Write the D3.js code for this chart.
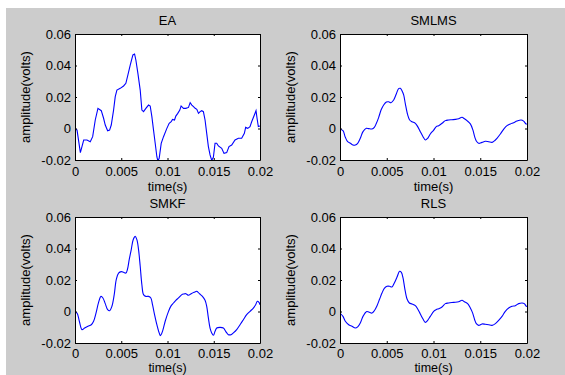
<!DOCTYPE html>
<html>
<head>
<meta charset="utf-8">
<script src="https://cdn.jsdelivr.net/npm/d3@7"></script>
<style>
  body { margin: 0; background: #fff; }
  text { font-family: "Liberation Sans", Arial, sans-serif; fill: #000; font-weight: normal; }
</style>
</head>
<body>
<svg id="fig" width="565" height="375"></svg>
<script>
// tick values / labels shared by the four panels
const xTicks = [0, 0.005, 0.01, 0.015, 0.02]
const xTickLabels = ["0", "0.005", "0.01", "0.015", "0.02"]
const yTicks = [-0.02, 0, 0.02, 0.04, 0.06]
const yTickLabels = ["-0.02", "0", "0.02", "0.04", "0.06"]
const panelTitles = ["EA", "SMLMS", "SMKF", "RLS"]

// EA
const eaTime = [0,0.00007,0.00022,0.00058,0.00094,0.00129,0.00165,0.00191,0.00219,0.00248,0.00284,0.00309,0.00327,0.00353,0.00374,0.00392,0.00417,0.00435,0.00453,0.00489,0.00525,0.0055,0.00572,0.00597,0.00626,0.00644,0.00658,0.0068,0.00705,0.00723,0.00741,0.00766,0.00795,0.00813,0.00831,0.00849,0.00867,0.00885,0.00896,0.0091,0.00932,0.00957,0.00993,0.01018,0.0104,0.01054,0.01076,0.0109,0.01111,0.01133,0.01147,0.01173,0.01198,0.01227,0.01245,0.01263,0.01281,0.01299,0.01317,0.01335,0.01353,0.0137,0.01388,0.01406,0.01424,0.01442,0.0146,0.01478,0.01496,0.01514,0.01532,0.0155,0.01586,0.01611,0.0164,0.01665,0.01694,0.0173,0.01766,0.01802,0.01831,0.01845,0.01867,0.01892,0.0191,0.01939,0.01957,0.01968,0.01982,0.02]
const eaAmp = [-0.0031,-0.0003,-0.001,-0.0153,-0.0073,-0.0073,-0.0084,-0.0052,0.0054,0.0128,0.0113,0.0065,0.0022,-0.0014,-0.001,0.0022,0.0117,0.0202,0.0244,0.0255,0.027,0.0287,0.034,0.0403,0.0467,0.0473,0.0435,0.035,0.0244,0.0117,0.0107,0.0128,0.0149,0.0143,0.0075,-0.001,-0.0094,-0.0179,-0.0206,-0.0189,-0.0094,-0.0052,0.0001,0.0033,0.0043,0.0058,0.0054,0.0079,0.0096,0.0117,0.0143,0.0128,0.0128,0.0134,0.0164,0.0149,0.0139,0.0128,0.0122,0.0096,0.0107,0.0113,0.0107,0.0054,-0.0031,-0.0115,-0.0168,-0.0202,-0.0183,-0.0094,-0.0094,-0.0111,-0.0126,-0.0158,-0.0153,-0.0115,-0.0105,-0.0073,-0.0062,-0.0062,-0.0031,0.0007,0.0001,0.0012,0.0043,0.0086,0.0113,0.0065,0.0012,0.0016]

// SMLMS
const smlmsTime = [0,0.00032,0.00057,0.00082,0.00111,0.00139,0.00164,0.00189,0.00217,0.00246,0.00282,0.00307,0.00342,0.00367,0.00389,0.00414,0.00439,0.00467,0.00496,0.0052,0.00545,0.00574,0.00602,0.00627,0.00645,0.00663,0.00681,0.00699,0.00724,0.00745,0.0077,0.00806,0.00831,0.00859,0.00888,0.00913,0.00938,0.00966,0.01002,0.0103,0.01055,0.01091,0.01127,0.01162,0.01198,0.01234,0.01269,0.01305,0.0133,0.01358,0.01394,0.01422,0.0144,0.01458,0.01483,0.01519,0.01554,0.0159,0.01626,0.01651,0.01679,0.01715,0.0175,0.01786,0.01822,0.01857,0.01893,0.01936,0.01964,0.01989,0.02]
const smlmsAmp = [-0.0005,-0.0014,-0.0056,-0.0084,-0.0094,-0.0105,-0.0105,-0.0094,-0.0062,-0.002,0.0001,-0.0001,-0.0003,0.0007,0.0033,0.0071,0.0117,0.0149,0.0168,0.017,0.0164,0.0181,0.0219,0.0253,0.0255,0.024,0.0213,0.0156,0.0086,0.0054,0.0043,0.0033,0.0012,-0.002,-0.0052,-0.0073,-0.0062,-0.0035,-0.001,0.0012,0.0018,0.0033,0.005,0.0054,0.0056,0.0058,0.0062,0.0071,0.0062,0.005,0.0029,-0.001,-0.0052,-0.0079,-0.0094,-0.0088,-0.0081,-0.0084,-0.0088,-0.0079,-0.0062,-0.0035,-0.0005,0.0018,0.0029,0.0037,0.0047,0.0054,0.0047,0.0029,0.0029]

// SMKF
const smkfTime = [0,0.00022,0.00047,0.00076,0.00104,0.0014,0.00176,0.00201,0.00227,0.00255,0.00281,0.00302,0.00327,0.00353,0.00374,0.00399,0.00424,0.00446,0.00471,0.005,0.00525,0.0055,0.00568,0.00586,0.00608,0.00629,0.00651,0.00669,0.00687,0.00705,0.00723,0.00741,0.00766,0.00795,0.0082,0.00838,0.0086,0.00885,0.0091,0.00924,0.00946,0.00975,0.01011,0.0104,0.01065,0.0109,0.01119,0.01155,0.01173,0.01198,0.01227,0.01256,0.01288,0.01317,0.01345,0.01378,0.01406,0.01424,0.01442,0.0146,0.01478,0.01496,0.01514,0.01532,0.01568,0.01604,0.01629,0.01658,0.01687,0.01712,0.01748,0.01784,0.0182,0.01856,0.01892,0.01928,0.01953,0.01971,0.01989,0.02]
const smkfAmp = [-0.0005,-0.001,-0.0062,-0.0115,-0.0105,-0.0094,-0.0084,-0.0062,-0.001,0.0058,0.0096,0.0086,0.005,0.0012,0.0005,0.0033,0.0107,0.0202,0.0244,0.0253,0.0249,0.0244,0.027,0.0329,0.0393,0.0456,0.0477,0.0456,0.0393,0.0287,0.017,0.0107,0.0096,0.0096,0.0086,0.0043,-0.002,-0.0084,-0.0136,-0.0153,-0.0126,-0.0062,0.0001,0.0037,0.0054,0.0071,0.0086,0.0107,0.0111,0.0113,0.0103,0.0113,0.0122,0.0128,0.0113,0.0096,0.0071,0.0033,-0.0041,-0.0105,-0.0136,-0.0151,-0.0126,-0.0105,-0.0101,-0.0105,-0.0126,-0.0147,-0.0147,-0.0136,-0.0115,-0.0084,-0.0052,-0.002,0.0001,0.0022,0.0043,0.0065,0.0058,0.0043]

// RLS
const rlsTime = [0,0.00032,0.00057,0.00093,0.00128,0.00164,0.00189,0.00217,0.00246,0.00282,0.00307,0.00342,0.00367,0.00396,0.00424,0.00449,0.00474,0.00503,0.00531,0.00556,0.00581,0.0061,0.00638,0.00656,0.00674,0.00692,0.00717,0.00742,0.0077,0.00806,0.00831,0.00859,0.00888,0.00913,0.00938,0.00966,0.01002,0.0103,0.01055,0.01091,0.01127,0.01162,0.01216,0.01269,0.01305,0.0133,0.01365,0.01394,0.01419,0.0144,0.01458,0.01483,0.01519,0.01554,0.0159,0.01626,0.01662,0.01697,0.01733,0.01768,0.01804,0.0184,0.01875,0.01911,0.01947,0.01971,0.01993,0.02]
const rlsAmp = [-0.001,-0.0031,-0.0062,-0.0084,-0.0094,-0.0105,-0.0098,-0.0073,-0.0031,-0.0001,-0.0003,-0.001,0.0005,0.0037,0.0079,0.0117,0.0147,0.016,0.016,0.0156,0.0181,0.0219,0.0255,0.0249,0.0213,0.0149,0.0079,0.0054,0.0048,0.0037,0.0016,-0.0016,-0.0048,-0.0069,-0.0056,-0.0031,0.0001,0.0012,0.0018,0.0029,0.005,0.0054,0.0058,0.0062,0.0071,0.0062,0.005,0.0022,-0.001,-0.0052,-0.0077,-0.0088,-0.0079,-0.0081,-0.0084,-0.0088,-0.0077,-0.0056,-0.0031,0.0001,0.0022,0.0033,0.0037,0.005,0.0054,0.005,0.0033,0.0033]

const series = [
  {time: eaTime, amp: eaAmp, curve: d3.curveLinear},
  {time: smlmsTime, amp: smlmsAmp, curve: d3.curveCatmullRom},
  {time: smkfTime, amp: smkfAmp, curve: d3.curveCatmullRom},
  {time: rlsTime, amp: rlsAmp, curve: d3.curveCatmullRom}
]

// axes boxes (pixel positions inside the figure)
// pad = x tick label padding, xlab = baseline offset of "time(s)", xlabSize = its font size
const cols = [{left: 75, right: 260}, {left: 340, right: 527}]
const rows = [
  {top: 34, bottom: 160, pad: 7, xlab: 31, xlabSize: 13},
  {top: 217, bottom: 343, pad: 5.5, xlab: 29, xlabSize: 12.5}
]

const svg = d3.select("#fig")

// white page strip + grey matlab figure
svg.append("rect").attr("width", 565).attr("height", 375).attr("fill", "#fff")
svg.append("rect").attr("x", 6).attr("y", 8).attr("width", 559).attr("height", 367).attr("fill", "#cccccc")

series.forEach(function(s, i) {
  const c = cols[i % 2], r = rows[Math.floor(i / 2)]
  const w = c.right - c.left, h = r.bottom - r.top

  const x = d3.scaleLinear().domain([0, 0.02]).range([0, w])
  const y = d3.scaleLinear().domain([-0.02, 0.06]).range([h, 0])

  const g = svg.append("g").attr("transform", "translate(" + c.left + "," + r.top + ")")

  g.append("rect").attr("width", w).attr("height", h).attr("fill", "#fff")

  g.append("clipPath").attr("id", "clip" + i)
    .append("rect").attr("width", w).attr("height", h)

  const line = d3.line()
    .x(function(d, k) { return x(s.time[k]) })
    .y(function(d) { return y(d) })
    .curve(s.curve)

  g.append("path")
    .datum(s.amp)
    .attr("clip-path", "url(#clip" + i + ")")
    .attr("fill", "none")
    .attr("stroke", "#0000ff")
    .attr("stroke-width", 1.1)
    .attr("d", line)

  // ticks point inward on all four sides, labels only left/bottom
  const xAxis = d3.axisBottom(x).tickValues(xTicks)
    .tickFormat(function(d, k) { return xTickLabels[k] })
    .tickSizeInner(-2).tickSizeOuter(0).tickPadding(r.pad)
  const yAxis = d3.axisLeft(y).tickValues(yTicks)
    .tickFormat(function(d, k) { return yTickLabels[k] })
    .tickSizeInner(-2).tickSizeOuter(0).tickPadding(4)

  g.append("g").attr("transform", "translate(0," + h + ")").call(xAxis)
  g.append("g").call(yAxis)
  g.append("g").call(d3.axisTop(x).tickValues(xTicks).tickFormat("").tickSizeInner(-2).tickSizeOuter(0))
  g.append("g").attr("transform", "translate(" + w + ",0)")
    .call(d3.axisRight(y).tickValues(yTicks).tickFormat("").tickSizeInner(-2).tickSizeOuter(0))

  g.selectAll(".domain, .tick line").attr("stroke", "#000")
  g.selectAll(".tick text").attr("font-size", 13).attr("font-family", null).attr("fill", "#000")

  g.append("text")
    .attr("x", w / 2).attr("y", -9)
    .attr("text-anchor", "middle")
    .style("font-size", "13px")
    .text(panelTitles[i])

  g.append("text")
    .attr("x", w / 2).attr("y", h + r.xlab)
    .attr("text-anchor", "middle")
    .style("font-size", r.xlabSize + "px")
    .text("time(s)")

  g.append("text")
    .attr("transform", "translate(-45," + (h / 2) + ") rotate(-90)")
    .attr("text-anchor", "middle")
    .style("font-size", "13px")
    .text("amplitude(volts)")
})
</script>
</body>
</html>
